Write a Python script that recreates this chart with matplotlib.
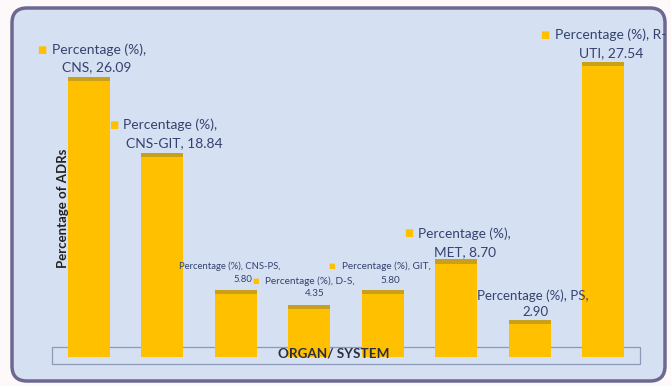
import numpy as np
import matplotlib
matplotlib.use("Agg")
import matplotlib.pyplot as plt
from matplotlib.patches import FancyBboxPatch, Rectangle

# ADRs by organ / system
series_name = "Percentage (%)"
systems = ["CNS", "CNS-GIT", "CNS-PS", "D-S", "GIT", "MET", "PS", "R-UTI"]
percent = [26.09, 18.84, 5.80, 4.35, 5.80, 8.70, 2.90, 27.54]

# where each data label wraps onto its second line (character index)
label_split = [15, 15, 23, 20, 20, 15, 19, 18]

# label placement, pixel offsets from the bar top: line1 dx, dy, line2 dx, dy
label_offsets = [(-37, 27, 8, 10), (-39, 28, 12, 10), (-6, 24, 7, 10),
                 (-44, 24, 6, 12), (-41, 24, 8, 9), (-38, 26, 9, 7),
                 (3, 25, 6, 8), (-48, 26.5, 8, 8.5)]
label_key = [True, True, False, True, True, True, False, True]
label_size = [10, 10, 6.8, 7.2, 7.2, 9.8, 9.5, 10]

bar_color = "#FFC000"
cap_color = "#C9A019"
text_color = "#35426E"
bg_color = "#D5E0F2"

fig = plt.figure(figsize=(6.71, 3.86), dpi=100)
fig.patch.set_facecolor("#FDF9FB")

# rounded chart area frame (inches)
frame = FancyBboxPatch((0.12, 0.05), 6.53, 3.73,
                       boxstyle="round,pad=0,rounding_size=0.15",
                       transform=fig.dpi_scale_trans, facecolor=bg_color,
                       edgecolor="#6C6890", linewidth=2.5, zorder=0)
fig.patches.append(frame)

# axis title box along the bottom
title_box = Rectangle((0.52, 0.22), 5.88, 0.17, transform=fig.dpi_scale_trans,
                      facecolor="none", edgecolor="#8C9AB8", linewidth=0.9, zorder=1)
fig.patches.append(title_box)

ax = fig.add_axes([52 / 671, 29 / 386, 593 / 671, 337 / 386])
ax.set_facecolor("none")
ax.set_zorder(2)

y0 = -0.6
x = np.arange(len(systems))
vals = np.array(percent)
ax.bar(x, vals - y0, bottom=y0, width=0.572, color=bar_color, zorder=2)
# darker band on the top of every bar
ax.bar(x, np.full(len(x), 0.4), bottom=vals - 0.4, width=0.572, color=cap_color, zorder=3)

ax.set_xlim(-0.504, 7.572)
ax.set_ylim(y0, 31.5)
ax.axis("off")

font = "Lato"
for i, (cat, v) in enumerate(zip(systems, percent)):
    full = f"{series_name}, {cat}, {v:.2f}"
    k = label_split[i]
    line1, line2 = full[:k].rstrip(), full[k:].strip()
    d1x, d1y, d2x, d2y = label_offsets[i]
    fs = label_size[i]
    if label_key[i]:
        ax.annotate("■", xy=(i, v), xytext=(d1x - 10, d1y), textcoords="offset pixels",
                    ha="center", va="center", fontsize=fs * 0.7, color=bar_color,
                    family="DejaVu Sans", annotation_clip=False)
        ha1 = "left"
    else:
        ha1 = "center"
    ax.annotate(line1, xy=(i, v), xytext=(d1x, d1y), textcoords="offset pixels",
                ha=ha1, va="center", fontsize=fs, color=text_color, family=font,
                annotation_clip=False)
    ax.annotate(line2, xy=(i, v), xytext=(d2x, d2y), textcoords="offset pixels",
                ha="center", va="center", fontsize=fs, color=text_color, family=font,
                annotation_clip=False)

fig.text(63 / 671, 1 - 208 / 386, "Percentage of ADRs", rotation=90, ha="center",
         va="center", fontsize=9.5, fontweight="bold", color="#222222", family=font)
fig.text(334 / 671, 1 - 353 / 386, "ORGAN/ SYSTEM", ha="center", va="center",
         fontsize=9.7, fontweight="bold", color="#2B2F45", family=font, zorder=5)

fig.savefig("out.png", dpi=100, facecolor=fig.get_facecolor())
